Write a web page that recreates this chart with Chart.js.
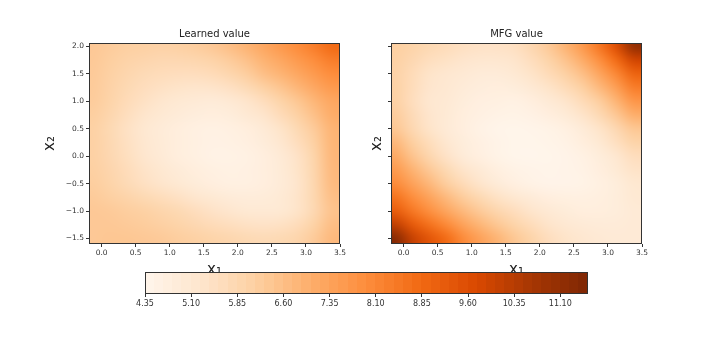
<!DOCTYPE html>
<html>
<head>
<meta charset="utf-8">
<script src="https://cdn.jsdelivr.net/npm/chart.js@4.4.0/dist/chart.umd.min.js"></script>
<style>
  body { margin: 0; background: #fff; }
  #wrap { position: relative; width: 714px; height: 357px; }
  #wrap canvas { position: absolute; left: 0; top: 0; }
</style>
</head>
<body>
<div id="wrap">
  <canvas id="learnedChart" width="714" height="357"></canvas>
  <canvas id="mfgChart" width="714" height="357"></canvas>
  <canvas id="barChart" width="714" height="357"></canvas>
</div>
<script>
// grid centres (x1 across, x2 top to bottom)
const x1Centers = [-0.125, 0.125, 0.375, 0.625, 0.875, 1.125, 1.375, 1.625, 1.875, 2.125, 2.375, 2.625, 2.875, 3.125, 3.375];
const x2Centers = [2.0, 1.75, 1.5, 1.25, 1.0, 0.75, 0.5, 0.25, 0.0, -0.25, -0.5, -0.75, -1.0, -1.25, -1.5];

// values, one row per x2 centre
const learnedValues = [
  [6.35, 6.25, 6.15, 6.1, 6.05, 6.1, 6.2, 6.35, 6.6, 6.9, 7.25, 7.6, 7.95, 8.35, 8.8],
  [6.33, 6.18, 6.03, 5.93, 5.85, 5.85, 5.9, 6.03, 6.25, 6.55, 6.93, 7.25, 7.6, 7.95, 8.35],
  [6.3, 6.1, 5.9, 5.75, 5.65, 5.6, 5.6, 5.7, 5.9, 6.2, 6.6, 6.9, 7.25, 7.6, 7.95],
  [6.28, 6.05, 5.8, 5.6, 5.45, 5.35, 5.3, 5.33, 5.48, 5.75, 6.1, 6.45, 6.83, 7.23, 7.6],
  [6.25, 6.0, 5.7, 5.45, 5.25, 5.1, 5.0, 4.95, 5.05, 5.3, 5.6, 6.0, 6.4, 6.85, 7.25],
  [6.18, 5.9, 5.58, 5.3, 5.1, 4.95, 4.83, 4.78, 4.85, 5.05, 5.3, 5.68, 6.1, 6.58, 7.08],
  [6.1, 5.8, 5.45, 5.15, 4.95, 4.8, 4.65, 4.6, 4.65, 4.8, 5.0, 5.35, 5.8, 6.3, 6.9],
  [6.1, 5.83, 5.5, 5.2, 4.98, 4.8, 4.65, 4.58, 4.6, 4.7, 4.88, 5.18, 5.6, 6.15, 6.85],
  [6.1, 5.85, 5.55, 5.25, 5.0, 4.8, 4.65, 4.55, 4.55, 4.6, 4.75, 5.0, 5.4, 6.0, 6.8],
  [6.15, 5.93, 5.65, 5.38, 5.15, 4.95, 4.78, 4.65, 4.6, 4.63, 4.75, 4.98, 5.35, 5.95, 6.75],
  [6.2, 6.0, 5.75, 5.5, 5.3, 5.1, 4.9, 4.75, 4.65, 4.65, 4.75, 4.95, 5.3, 5.9, 6.7],
  [6.28, 6.15, 5.98, 5.8, 5.63, 5.45, 5.25, 5.08, 4.95, 4.88, 4.9, 5.03, 5.33, 5.88, 6.6],
  [6.35, 6.3, 6.2, 6.1, 5.95, 5.8, 5.6, 5.4, 5.25, 5.1, 5.05, 5.1, 5.35, 5.85, 6.5],
  [6.35, 6.35, 6.3, 6.23, 6.13, 6.0, 5.85, 5.7, 5.58, 5.45, 5.4, 5.45, 5.65, 6.08, 6.63],
  [6.35, 6.4, 6.4, 6.35, 6.3, 6.2, 6.1, 6.0, 5.9, 5.8, 5.75, 5.8, 5.95, 6.3, 6.75]
];
const mfgValues = [
  [6.15, 6.0, 5.8, 5.65, 5.5, 5.4, 5.4, 5.5, 5.85, 6.3, 6.9, 7.6, 8.5, 9.6, 11.1],
  [6.1, 5.85, 5.58, 5.43, 5.28, 5.18, 5.18, 5.3, 5.6, 6.0, 6.5, 7.1, 7.9, 8.8, 9.9],
  [6.05, 5.7, 5.35, 5.2, 5.05, 4.95, 4.95, 5.1, 5.35, 5.7, 6.1, 6.6, 7.3, 8.1, 9.0],
  [6.08, 5.65, 5.28, 5.13, 4.95, 4.83, 4.8, 4.85, 5.05, 5.35, 5.7, 6.15, 6.75, 7.5, 8.35],
  [6.1, 5.6, 5.2, 5.05, 4.85, 4.7, 4.65, 4.6, 4.75, 5.0, 5.3, 5.7, 6.2, 6.9, 7.7],
  [6.25, 5.73, 5.28, 5.03, 4.8, 4.63, 4.53, 4.49, 4.58, 4.75, 4.98, 5.33, 5.78, 6.38, 7.05],
  [6.4, 5.85, 5.35, 5.0, 4.75, 4.55, 4.42, 4.38, 4.4, 4.5, 4.65, 4.95, 5.35, 5.85, 6.4],
  [6.8, 6.18, 5.63, 5.2, 4.85, 4.63, 4.46, 4.38, 4.38, 4.44, 4.55, 4.78, 5.1, 5.53, 6.0],
  [7.2, 6.5, 5.9, 5.4, 4.95, 4.7, 4.5, 4.38, 4.35, 4.38, 4.45, 4.6, 4.85, 5.2, 5.6],
  [7.6, 6.95, 6.35, 5.8, 5.33, 5.0, 4.73, 4.54, 4.45, 4.42, 4.45, 4.55, 4.75, 5.03, 5.38],
  [8.0, 7.4, 6.8, 6.2, 5.7, 5.3, 4.95, 4.7, 4.55, 4.45, 4.45, 4.5, 4.65, 4.85, 5.15],
  [8.6, 7.95, 7.35, 6.75, 6.23, 5.8, 5.43, 5.15, 4.93, 4.75, 4.68, 4.65, 4.73, 4.85, 5.08],
  [9.2, 8.5, 7.9, 7.3, 6.75, 6.3, 5.9, 5.6, 5.3, 5.05, 4.9, 4.8, 4.8, 4.85, 5.0],
  [10.2, 9.3, 8.65, 8.05, 7.38, 6.85, 6.4, 6.0, 5.65, 5.33, 5.13, 5.0, 4.93, 4.93, 5.0],
  [11.4, 10.1, 9.4, 8.8, 8.0, 7.4, 6.9, 6.4, 6.0, 5.6, 5.35, 5.2, 5.05, 5.0, 5.0]
];

const xTicks = [0.0, 0.5, 1.0, 1.5, 2.0, 2.5, 3.0, 3.5];
const yTicks = [-1.5, -1.0, -0.5, 0.0, 0.5, 1.0, 1.5, 2.0];
const colorTicks = [4.35, 5.10, 5.85, 6.60, 7.35, 8.10, 8.85, 9.60, 10.35, 11.10];
const vMin = 4.35, vMax = 11.55;

// matplotlib "Oranges"
const orangesStops = ['#fff5eb', '#fee6ce', '#fdd0a2', '#fdae6b', '#fd8d3c', '#f16913', '#d94801', '#a63603', '#7f2704'];
const stopRgb = orangesStops.map(h => [1, 3, 5].map(i => parseInt(h.substr(i, 2), 16)));

function orangeRgb(v) {
  let t = (v - vMin) / (vMax - vMin);
  t = Math.max(0, Math.min(1, t)) * (stopRgb.length - 1);
  const i = Math.min(Math.floor(t), stopRgb.length - 2);
  const f = t - i;
  return stopRgb[i].map((a, k) => Math.round(a + (stopRgb[i + 1][k] - a) * f));
}
function orange(v) { return 'rgb(' + orangeRgb(v).join(',') + ')'; }

function fmt(v, d) { return v.toFixed(d).replace('-', '\u2212'); }

const textColor = '#333';
const halfX = (x1Centers[1] - x1Centers[0]) / 2;
const halfY = (x2Centers[0] - x2Centers[1]) / 2;

function gridPoints(vals) {
  const pts = [];
  x2Centers.forEach((y, r) => {
    x1Centers.forEach((x, c) => pts.push({ x: x, y: y, v: vals[r][c] }));
  });
  return pts;
}

// one pixel per grid cell, then stretched over the cell extent (like imshow, bilinear)
function cellImage(points) {
  const nx = x1Centers.length, ny = x2Centers.length;
  const c = document.createElement('canvas');
  c.width = nx; c.height = ny;
  const g = c.getContext('2d');
  const img = g.createImageData(nx, ny);
  points.forEach((p, k) => {
    const rgb = orangeRgb(p.v);
    img.data[k * 4] = rgb[0];
    img.data[k * 4 + 1] = rgb[1];
    img.data[k * 4 + 2] = rgb[2];
    img.data[k * 4 + 3] = 255;
  });
  g.putImageData(img, 0, 0);
  return c;
}

const heatPlugin = {
  id: 'heat',
  beforeDatasetsDraw(chart) {
    const ctx = chart.ctx, a = chart.chartArea;
    const xs = chart.scales.x, ys = chart.scales.y;
    const pts = chart.data.datasets[0].data;
    const l = xs.getPixelForValue(x1Centers[0] - halfX);
    const r = xs.getPixelForValue(x1Centers[x1Centers.length - 1] + halfX);
    const t = ys.getPixelForValue(x2Centers[0] + halfY);
    const b = ys.getPixelForValue(x2Centers[x2Centers.length - 1] - halfY);
    ctx.save();
    ctx.beginPath();
    ctx.rect(a.left, a.top, a.right - a.left, a.bottom - a.top);
    ctx.clip();
    ctx.imageSmoothingEnabled = true;
    ctx.imageSmoothingQuality = 'high';
    ctx.drawImage(cellImage(pts), l, t, r - l, b - t);
    ctx.restore();
  },
  afterDraw(chart) {
    const ctx = chart.ctx, a = chart.chartArea;
    const o = chart.options.plugins.heat;
    ctx.save();
    ctx.strokeStyle = textColor;
    ctx.lineWidth = 1;
    ctx.strokeRect(a.left + 0.5, a.top + 0.5, a.right - a.left - 1, a.bottom - a.top - 1);
    ctx.fillStyle = '#222';
    ctx.textAlign = 'center';
    ctx.textBaseline = 'middle';
    ctx.font = '10px "DejaVu Sans"';
    ctx.fillText(o.title, (a.left + a.right) / 2, 34);
    ctx.font = '15px "DejaVu Sans"';
    ctx.textBaseline = 'alphabetic';
    ctx.fillText('x\u2081', (a.left + a.right) / 2, 274);
    ctx.translate(o.yLabelX, (a.top + a.bottom) / 2);
    ctx.rotate(-Math.PI / 2);
    ctx.fillText('x\u2082', 0, 0);
    ctx.restore();
  }
};

function heatChart(id, vals, title, padLeft, padRight, showYLabels, yLabelX) {
  return new Chart(document.getElementById(id), {
    type: 'scatter',
    data: { datasets: [{ data: gridPoints(vals), pointRadius: 0, pointHoverRadius: 0 }] },
    options: {
      responsive: false,
      animation: false,
      events: [],
      layout: { padding: { left: padLeft, right: padRight, top: 43, bottom: 357 - 244 - 22 } },
      plugins: { legend: { display: false }, tooltip: { enabled: false }, heat: { title: title, yLabelX: yLabelX } },
      scales: {
        x: {
          type: 'linear', min: -0.185, max: 3.5,
          afterBuildTicks: s => { s.ticks = xTicks.map(v => ({ value: v })); },
          afterFit: s => { s.height = 22; },
          ticks: { font: { family: 'DejaVu Sans', size: 7.5 }, color: textColor, padding: 2, maxRotation: 0, autoSkip: false, callback: v => fmt(v, 1) },
          grid: { drawOnChartArea: false, tickLength: 3, tickColor: textColor },
          border: { display: false }
        },
        y: {
          type: 'linear', min: -1.6, max: 2.06,
          afterBuildTicks: s => { s.ticks = yTicks.map(v => ({ value: v })); },
          afterFit: s => { s.width = 30; },
          ticks: { display: showYLabels, font: { family: 'DejaVu Sans', size: 7.5 }, color: textColor, padding: 2, autoSkip: false, callback: v => fmt(v, 1) },
          grid: { drawOnChartArea: false, tickLength: 3, tickColor: textColor },
          border: { display: false }
        }
      }
    },
    plugins: [heatPlugin]
  });
}

heatChart('learnedChart', learnedValues, 'Learned value', 89 - 30, 714 - 340, true, 54);
heatChart('mfgChart', mfgValues, 'MFG value', 391 - 30, 714 - 642, false, 381);

// colour bar under both panels
const barPlugin = {
  id: 'bar',
  beforeDatasetsDraw(chart) {
    const ctx = chart.ctx, a = chart.chartArea, xs = chart.scales.x;
    const n = 48, step = (vMax - vMin) / n;
    ctx.save();
    for (let k = 0; k < n; k++) {
      const v0 = vMin + k * step;
      const l = Math.floor(xs.getPixelForValue(v0));
      const r = Math.ceil(xs.getPixelForValue(v0 + step));
      ctx.fillStyle = orange(v0 + step / 2);
      ctx.fillRect(l, a.top, r - l, a.bottom - a.top);
    }
    ctx.strokeStyle = textColor;
    ctx.lineWidth = 1;
    ctx.strokeRect(a.left + 0.5, a.top + 0.5, a.right - a.left - 1, a.bottom - a.top - 1);
    ctx.restore();
  }
};

new Chart(document.getElementById('barChart'), {
  type: 'scatter',
  data: { datasets: [{ data: [], pointRadius: 0 }] },
  options: {
    responsive: false,
    animation: false,
    events: [],
    layout: { padding: { left: 145, right: 714 - 588, top: 272, bottom: 357 - 294 - 20 } },
    plugins: { legend: { display: false }, tooltip: { enabled: false } },
    scales: {
      x: {
        type: 'linear', min: vMin, max: vMax,
        afterBuildTicks: s => { s.ticks = colorTicks.map(v => ({ value: v })); },
        afterFit: s => { s.height = 20; },
        ticks: { font: { family: 'DejaVu Sans', size: 8 }, color: textColor, padding: 2, maxRotation: 0, autoSkip: false, callback: v => fmt(v, 2) },
        grid: { drawOnChartArea: false, tickLength: 3, tickColor: textColor },
        border: { display: false }
      },
      y: { display: false, min: 0, max: 1 }
    }
  },
  plugins: [barPlugin]
});
</script>
</body>
</html>
